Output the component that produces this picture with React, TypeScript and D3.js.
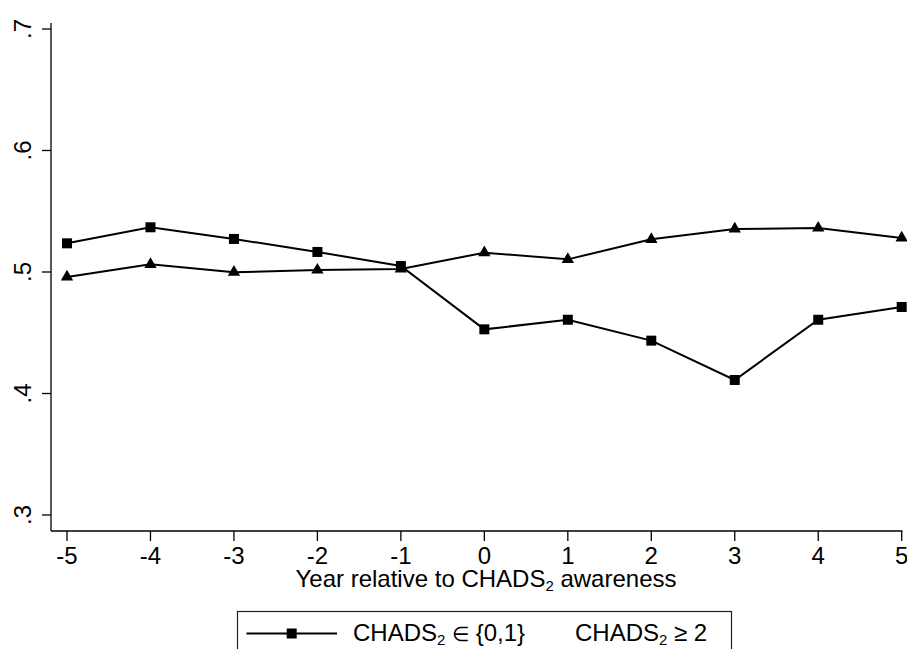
import React from "react";
import * as d3 from "d3";

// Years relative to awareness
const years = [-5, -4, -3, -2, -1, 0, 1, 2, 3, 4, 5];
// CHADS2 in {0,1}
const lowRisk = [0.5236, 0.5368, 0.5272, 0.5165, 0.5049, 0.4528, 0.4607, 0.4435, 0.4111, 0.4607, 0.4712];
// CHADS2 >= 2
const highRisk = [0.4959, 0.5063, 0.4998, 0.5016, 0.5025, 0.5159, 0.5104, 0.5269, 0.5354, 0.5362, 0.528];
const yTicks = [0.3, 0.4, 0.5, 0.6, 0.7];
const yTickLabels = [".3", ".4", ".5", ".6", ".7"];

const W = 907;
const H = 649;
const FONT = "'Liberation Sans', Arial, sans-serif";
const FS = 24;
const SUB = 15;

export default function App() {
  const x = d3.scaleLinear().domain([-5, 5]).range([67, 901.7]);
  const y = d3.scaleLinear().domain([0.3, 0.7]).range([515, 29]);
  const axisX = 51;
  const axisY = 531;

  const line = d3
    .line<number>()
    .x((_, i) => x(years[i]))
    .y((d) => y(d));

  const square = d3.symbol(d3.symbolSquare, 100)()!;
  const triangle = d3.symbol(d3.symbolTriangle, 66)()!;

  return (
    <svg
      width={W}
      height={H}
      style={{ position: "absolute", left: 0, top: 0, background: "#fff" }}
      fontFamily={FONT}
    >
      <rect x={0} y={0} width={W} height={H} fill="#fff" />
      {/* axes */}
      <line x1={axisX} x2={axisX} y1={23} y2={axisY} stroke="#000" strokeWidth={1.3} />
      <line x1={axisX} x2={902.5} y1={axisY} y2={axisY} stroke="#000" strokeWidth={1.3} />
      {yTicks.map((t, i) => (
        <g key={t}>
          <line x1={axisX - 9} x2={axisX} y1={y(t)} y2={y(t)} stroke="#000" strokeWidth={1.3} />
          <text
            x={31}
            y={y(t)}
            fontSize={FS}
            textAnchor="middle"
            transform={`rotate(-90 31 ${y(t)})`}
          >
            {yTickLabels[i]}
          </text>
        </g>
      ))}
      {years.map((t) => (
        <g key={t}>
          <line x1={x(t)} x2={x(t)} y1={axisY} y2={axisY + 10} stroke="#000" strokeWidth={1.3} />
          <text x={x(t)} y={563.5} fontSize={FS} textAnchor="middle">
            {t}
          </text>
        </g>
      ))}
      <text x={486} y={587} fontSize={FS} textAnchor="middle">
        Year relative to CHADS
        <tspan fontSize={SUB} dy={4}>2</tspan>
        <tspan dy={-4}> awareness</tspan>
      </text>

      {/* series */}
      <path d={line(highRisk)!} fill="none" stroke="#000" strokeWidth={2} />
      <path d={line(lowRisk)!} fill="none" stroke="#000" strokeWidth={2} />
      {highRisk.map((v, i) => (
        <path key={"t" + i} d={triangle} transform={`translate(${x(years[i])},${y(v)})`} fill="#000" />
      ))}
      {lowRisk.map((v, i) => (
        <path key={"s" + i} d={square} transform={`translate(${x(years[i])},${y(v)})`} fill="#000" />
      ))}

      {/* legend */}
      <rect x={237.5} y={611.5} width={494} height={60} fill="#fff" stroke="#222" strokeWidth={1.2} />
      <line x1={246.5} x2={337} y1={633.5} y2={633.5} stroke="#000" strokeWidth={2} />
      <path d={square} transform="translate(291.7,633.5)" fill="#000" />
      <text x={353} y={640.5} fontSize={FS}>
        CHADS
        <tspan fontSize={SUB} dy={4}>2</tspan>
        <tspan dy={-4}> </tspan>
        <tspan fontSize={20}>∈</tspan>
        <tspan> {"{0,1}"}</tspan>
      </text>
      <text x={575} y={640.5} fontSize={FS}>
        CHADS
        <tspan fontSize={SUB} dy={4}>2</tspan>
        <tspan dy={-4}> ≥ 2</tspan>
      </text>
    </svg>
  );
}
